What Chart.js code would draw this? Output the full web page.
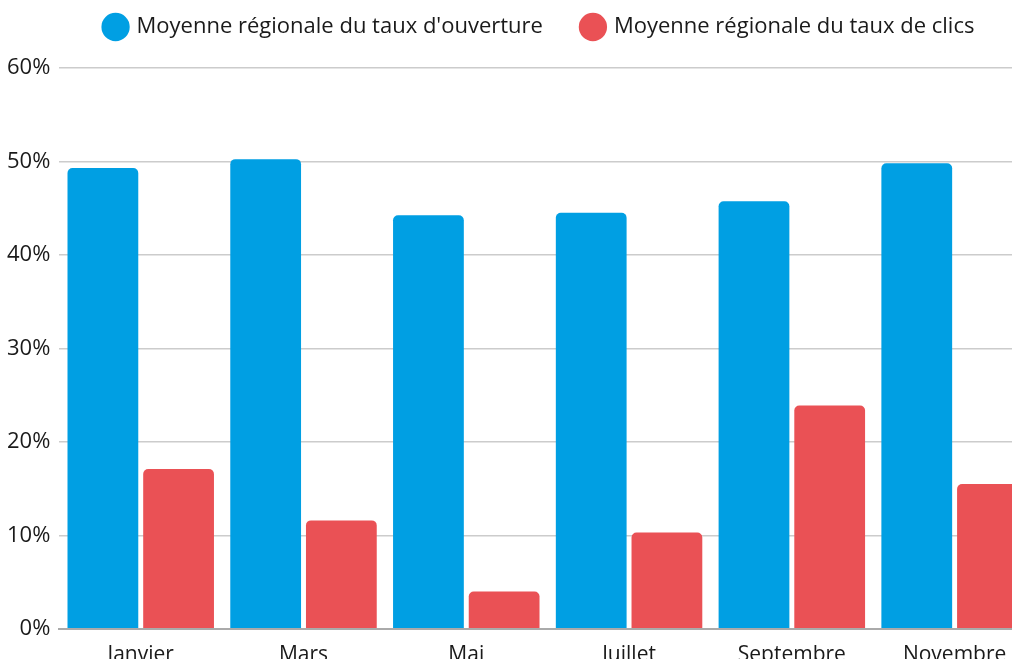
<!DOCTYPE html>
<html lang="fr">
<head>
    <meta charset="UTF-8">
    <title>Taux d'ouverture et de clics</title>
    <script src="https://cdn.jsdelivr.net/npm/chart.js"></script>
    <style>
        body {
            margin: 0;
            background-color: #ffffff;
            overflow: hidden;
        }

        #wrap {
            width: 1084px;
            height: 674px;
        }
    </style>
</head>
<body>

<div id="wrap">
    <canvas id="tauxChart"></canvas>
</div>

<script>
    var months = ['Janvier', 'Mars', 'Mai', 'Juillet', 'Septembre', 'Novembre'];
    var openRates = [49.3, 50.25, 44.25, 44.5, 45.75, 49.8];
    var clickRates = [17.1, 11.6, 4.0, 10.3, 23.9, 15.5];
    var seriesNames = ['Moyenne régionale du taux d\'ouverture', 'Moyenne régionale du taux de clics'];

    var ctx = document.getElementById('tauxChart').getContext('2d');

    Chart.defaults.font.family = '"Open Sans", sans-serif';
    Chart.defaults.color = '#1a1a1a';

    // legend: tweak the gap below it and nudge it a little to the right
    var legendTweak = {
        id: 'legendTweak',
        beforeInit: function (chart) {
            var fit = chart.legend.fit;
            chart.legend.fit = function () {
                fit.bind(chart.legend)();
                this.height += 20;
            };
        },
        afterLayout: function (chart) {
            chart.legend.left += 23;
            chart.legend.right += 23;
        }
    };

    var myChart = new Chart(ctx, {
        type: 'bar',
        data: {
            labels: months,
            datasets: [{
                label: seriesNames[0],
                data: openRates,
                backgroundColor: '#009fe3',
                borderRadius: { topLeft: 5, topRight: 5 },
                borderSkipped: 'start'
            }, {
                label: seriesNames[1],
                data: clickRates,
                backgroundColor: '#ea5155',
                borderRadius: { topLeft: 5, topRight: 5 },
                borderSkipped: 'start'
            }]
        },
        options: {
            responsive: true,
            maintainAspectRatio: false,
            animation: false,
            datasets: {
                bar: {
                    categoryPercentage: 0.93,
                    barPercentage: 0.935
                }
            },
            layout: {
                padding: { left: -2, right: 48, top: -24, bottom: 0 }
            },
            plugins: {
                legend: {
                    labels: {
                        usePointStyle: true,
                        pointStyle: 'circle',
                        boxWidth: 20,
                        boxHeight: 20,
                        padding: 40,
                        font: { size: 22 }
                    }
                },
                tooltip: { enabled: false }
            },
            scales: {
                x: {
                    grid: { display: false },
                    border: { color: '#aaaaaa', width: 2 },
                    ticks: { font: { size: 21 }, padding: 6 }
                },
                y: {
                    min: 0,
                    max: 60,
                    ticks: {
                        stepSize: 10,
                        padding: 9,
                        font: { size: 22 },
                        callback: function (v) { return v + '%'; }
                    },
                    grid: { color: '#cccccc', lineWidth: 1.5, drawTicks: false },
                    border: { display: false }
                }
            }
        },
        plugins: [legendTweak]
    });
</script>

</body>
</html>
